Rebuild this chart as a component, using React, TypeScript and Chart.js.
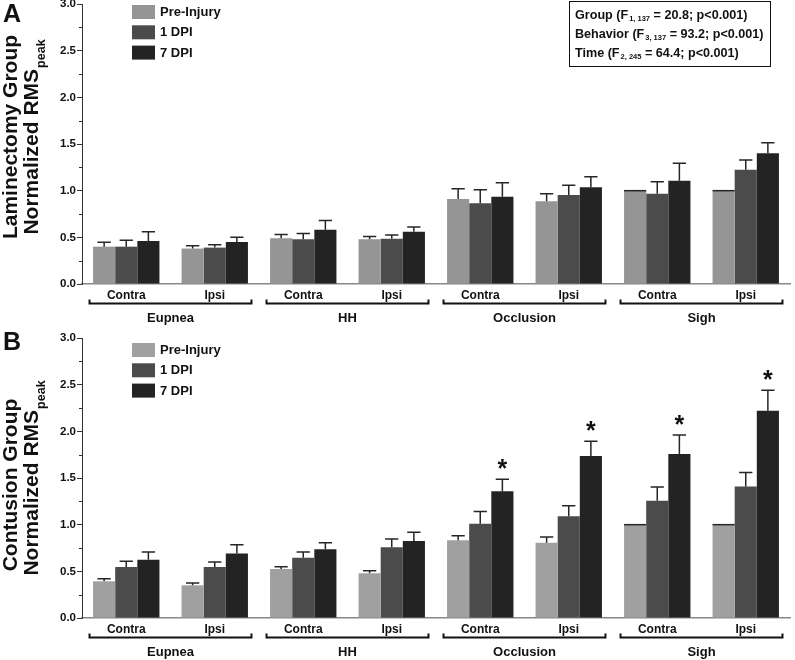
import React, { useEffect, useRef } from "react";
import { Chart, registerables } from "chart.js";

Chart.register(...registerables);

const FONT = '"Liberation Sans", Arial, Helvetica, sans-serif';

// ---------- data ----------
const categories = ["Contra", "Ipsi", "Contra", "Ipsi", "Contra", "Ipsi", "Contra", "Ipsi"];
const behaviors = ["Eupnea", "HH", "Occlusion", "Sigh"];
const seriesNames = ["Pre-Injury", "1 DPI", "7 DPI"];
const yMin = 0;
const yMax = 3;
const yStep = 0.5;

// Panel A: Laminectomy group
const lamPre = [0.40, 0.38, 0.49, 0.48, 0.91, 0.886, 1.0, 1.0];
const lamPreErr = [0.046, 0.03, 0.04, 0.03, 0.11, 0.082, 0, 0];
const lam1 = [0.40, 0.39, 0.48, 0.485, 0.864, 0.954, 0.968, 1.225];
const lam1Err = [0.07, 0.03, 0.06, 0.04, 0.146, 0.103, 0.128, 0.104];
const lam7 = [0.46, 0.45, 0.58, 0.56, 0.936, 1.036, 1.107, 1.40];
const lam7Err = [0.10, 0.05, 0.10, 0.05, 0.15, 0.114, 0.186, 0.114];

// Panel B: Contusion group
const conPre = [0.393, 0.35, 0.525, 0.479, 0.832, 0.807, 1.0, 1.0];
const conPreErr = [0.027, 0.025, 0.025, 0.028, 0.05, 0.061, 0, 0];
const con1 = [0.546, 0.546, 0.646, 0.757, 1.01, 1.089, 1.257, 1.41];
const con1Err = [0.061, 0.054, 0.061, 0.089, 0.13, 0.115, 0.147, 0.15];
const con7 = [0.625, 0.69, 0.736, 0.825, 1.357, 1.736, 1.757, 2.221];
const con7Err = [0.082, 0.096, 0.071, 0.095, 0.129, 0.157, 0.203, 0.219];
const con7Stars = [false, false, false, false, true, true, true, true];
const noStars = [false, false, false, false, false, false, false, false];

const colorsA = ["#959595", "#4b4b4b", "#232323"];
const colorsB = ["#a0a0a0", "#4b4b4b", "#232323"];

type PanelCfg = {
  letter: string;
  letterBaseline: number;
  title1: string;
  title1Off: number;
  title2Off: number;
  legendTop: number;
  values: number[][];
  errors: number[][];
  stars: boolean[][];
  colors: string[];
};

const CANVAS_W = 795;
const CANVAS_H = 336;

function makePlugin(cfg: PanelCfg) {
  return {
    id: "panelDecor",
    afterDatasetsDraw(chart: any) {
      const ctx = chart.ctx;
      const ys = chart.scales.y;
      cfg.errors.forEach((errs, di) => {
        const meta = chart.getDatasetMeta(di);
        meta.data.forEach((el: any, j: number) => {
          const p = el.getProps(["x", "y", "width"], true);
          const v = cfg.values[di][j];
          const e = errs[j];
          ctx.save();
          ctx.strokeStyle = "#262626";
          ctx.lineWidth = 1.5;
          ctx.beginPath();
          let capY = p.y;
          if (e <= 0) {
            ctx.moveTo(p.x - p.width / 2, p.y);
            ctx.lineTo(p.x + p.width / 2, p.y);
          } else {
            capY = ys.getPixelForValue(v + e);
            const hw = p.width * 0.3;
            ctx.moveTo(p.x, p.y);
            ctx.lineTo(p.x, capY);
            ctx.moveTo(p.x - hw, capY);
            ctx.lineTo(p.x + hw, capY);
          }
          ctx.stroke();
          if (cfg.stars[di] && cfg.stars[di][j]) {
            ctx.fillStyle = "#111";
            ctx.font = `bold 25px ${FONT}`;
            ctx.textAlign = "center";
            ctx.textBaseline = "alphabetic";
            ctx.fillText("*", p.x, capY - 16 + 14);
          }
          ctx.restore();
        });
      });
    },
    afterDraw(chart: any) {
      const ctx = chart.ctx;
      const ca = chart.chartArea;
      const xs = chart.scales.x;
      const ys = chart.scales.y;
      ctx.save();
      // minor y ticks
      ctx.strokeStyle = "#333";
      ctx.lineWidth = 1;
      ctx.beginPath();
      for (let v = yMin + yStep / 2; v < yMax; v += yStep) {
        const py = Math.round(ys.getPixelForValue(v)) + 0.5;
        ctx.moveTo(ca.left - 3, py);
        ctx.lineTo(ca.left, py);
      }
      ctx.stroke();

      // brackets and behavior labels
      ctx.strokeStyle = "#111";
      ctx.lineWidth = 2;
      ctx.fillStyle = "#111";
      ctx.font = `bold 13px ${FONT}`;
      ctx.textAlign = "center";
      ctx.textBaseline = "middle";
      behaviors.forEach((b, g) => {
        const xa = xs.getPixelForValue(2 * g);
        const xb = xs.getPixelForValue(2 * g + 1);
        const cat = xb - xa;
        const c = (xa + xb) / 2;
        const half = cat * 0.915;
        const yb = ca.bottom + 19.5;
        ctx.beginPath();
        ctx.moveTo(c - half, yb - 4);
        ctx.lineTo(c - half, yb);
        ctx.lineTo(c + half, yb);
        ctx.lineTo(c + half, yb - 4);
        ctx.stroke();
        ctx.fillText(b, c, ca.bottom + 34.5);
      });

      // legend
      ctx.textAlign = "left";
      ctx.textBaseline = "middle";
      ctx.font = `bold 13px ${FONT}`;
      seriesNames.forEach((n, i) => {
        const top = cfg.legendTop + i * 20.3;
        ctx.fillStyle = cfg.colors[i];
        ctx.fillRect(132, top, 23, 14);
        ctx.fillStyle = "#111";
        ctx.fillText(n, 160, top + 7.5);
      });

      // y title
      const mid = (ca.top + ca.bottom) / 2;
      ctx.fillStyle = "#111";
      ctx.save();
      ctx.translate(17, mid + cfg.title1Off);
      ctx.rotate(-Math.PI / 2);
      ctx.font = `bold 21px ${FONT}`;
      ctx.textAlign = "center";
      ctx.textBaseline = "alphabetic";
      ctx.fillText(cfg.title1, 0, 0);
      ctx.restore();

      ctx.save();
      ctx.translate(38, mid + cfg.title2Off);
      ctx.rotate(-Math.PI / 2);
      ctx.textAlign = "left";
      ctx.textBaseline = "alphabetic";
      ctx.font = `bold 21px ${FONT}`;
      const main = "Normalized RMS";
      const w1 = ctx.measureText(main).width;
      ctx.font = `bold 12.5px ${FONT}`;
      const sub = "peak";
      const w2 = ctx.measureText(sub).width;
      const start = -(w1 + w2 + 1) / 2;
      ctx.font = `bold 21px ${FONT}`;
      ctx.fillText(main, start, 0);
      ctx.font = `bold 12.5px ${FONT}`;
      ctx.fillText(sub, start + w1 + 1, 7);
      ctx.restore();

      // panel letter
      ctx.font = `bold 25px ${FONT}`;
      ctx.textAlign = "left";
      ctx.textBaseline = "alphabetic";
      ctx.fillStyle = "#111";
      ctx.fillText(cfg.letter, 3, cfg.letterBaseline);
      ctx.restore();
    },
  };
}

function Panel({ cfg, top }: { cfg: PanelCfg; top: number }) {
  const ref = useRef<HTMLCanvasElement | null>(null);
  useEffect(() => {
    if (!ref.current) return;
    const chart = new Chart(ref.current, {
      type: "bar",
      data: {
        labels: categories,
        datasets: seriesNames.map((n, i) => ({
          label: n,
          data: cfg.values[i],
          backgroundColor: cfg.colors[i],
          borderWidth: 0,
          categoryPercentage: 0.75,
          barPercentage: 1.0,
        })),
      },
      options: {
        responsive: false,
        animation: false,
        devicePixelRatio: 1,
        layout: { padding: { left: 0, right: 5, top: 8, bottom: 0 } },
        plugins: { legend: { display: false }, tooltip: { enabled: false } },
        scales: {
          x: {
            grid: { display: false, drawTicks: false },
            border: { display: true, color: "#888", width: 1.5 },
            ticks: {
              font: { family: FONT, size: 12, weight: "bold" },
              color: "#111",
              padding: 4,
              maxRotation: 0,
              autoSkip: false,
            },
            afterFit: (s: any) => {
              s.height = 48;
            },
          },
          y: {
            min: yMin,
            max: yMax,
            ticks: {
              stepSize: yStep,
              font: { family: FONT, size: 11.5, weight: "bold" },
              color: "#111",
              padding: 1,
              callback: (v: any) => Number(v).toFixed(1),
            },
            grid: { drawOnChartArea: false, drawTicks: true, tickLength: 5, color: "#333", lineWidth: 1 },
            border: { display: true, color: "#333", width: 1 },
            afterFit: (s: any) => {
              s.width = 82;
            },
          },
        },
      },
      plugins: [makePlugin(cfg)],
    } as any);
    return () => chart.destroy();
  }, [cfg]);
  return (
    <canvas
      ref={ref}
      width={CANVAS_W}
      height={CANVAS_H}
      style={{ position: "absolute", left: 0, top, width: CANVAS_W, height: CANVAS_H }}
    />
  );
}

const cfgA: PanelCfg = {
  letter: "A",
  letterBaseline: 26,
  title1: "Laminectomy Group",
  title1Off: -7,
  title2Off: -7,
  legendTop: 9,
  values: [lamPre, lam1, lam7],
  errors: [lamPreErr, lam1Err, lam7Err],
  stars: [noStars, noStars, noStars],
  colors: colorsA,
};

const cfgB: PanelCfg = {
  letter: "B",
  letterBaseline: 20,
  title1: "Contusion Group",
  title1Off: 7,
  title2Off: 0,
  legendTop: 13,
  values: [conPre, con1, con7],
  errors: [conPreErr, con1Err, con7Err],
  stars: [noStars, noStars, con7Stars],
  colors: colorsB,
};

const statLines = [
  { pre: "Group (F", sub: "1, 137", post: " = 20.8; p<0.001)" },
  { pre: "Behavior (F", sub: "3, 137", post: " = 93.2; p<0.001)" },
  { pre: "Time (F", sub: "2, 245", post: " = 64.4; p<0.001)" },
];

export default function App() {
  return (
    <div
      style={{
        position: "absolute",
        left: 0,
        top: 0,
        width: 795,
        height: 660,
        overflow: "hidden",
        background: "#fff",
      }}
    >
      <Panel cfg={cfgA} top={-4} />
      <Panel cfg={cfgB} top={330} />
      <div
        style={{
          position: "absolute",
          left: 569,
          top: 1,
          width: 202,
          height: 66,
          boxSizing: "border-box",
          border: "1.5px solid #111",
          padding: "4px 0 0 5px",
          fontFamily: FONT,
          fontWeight: "bold",
          fontSize: 12.6,
          lineHeight: "19px",
          color: "#111",
          whiteSpace: "nowrap",
        }}
      >
        {statLines.map((l, i) => (
          <div key={i} style={{ height: 19, lineHeight: "19px" }}>
            {l.pre}
            <span style={{ fontSize: 7.5, position: "relative", top: 2, marginLeft: 1, lineHeight: 0 }}>
              {l.sub}
            </span>
            {l.post}
          </div>
        ))}
      </div>
    </div>
  );
}
